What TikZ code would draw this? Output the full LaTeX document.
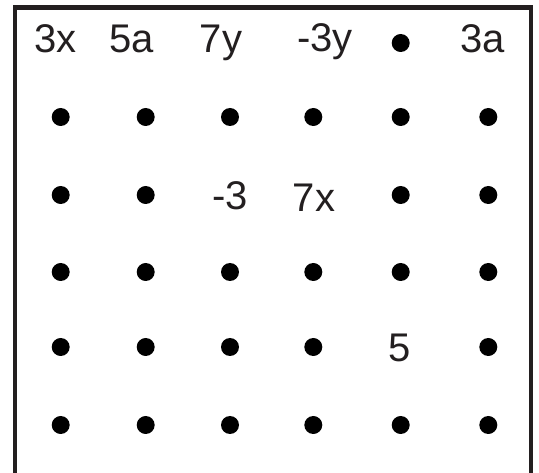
\documentclass[tikz,border=0pt]{standalone}
\usepackage{fontspec}
\setmainfont{Liberation Sans}
\definecolor{inkgray}{HTML}{231F20}

\begin{document}
\begin{tikzpicture}[x=1pt, y=-1pt, font=\fontsize{40}{44}\selectfont,
	dot/.style={circle, fill=black, inner sep=0pt, minimum size=18pt},
	lbl/.style={text=inkgray, inner sep=0pt, anchor=base}]
	\useasboundingbox (0,0) rectangle (539,473);
	\draw[line width=4.7pt, inkgray] (15,490) -- (15,7.5) -- (531,7.5) -- (531,490);
	% full rows of dots
	\foreach \y/\r in {117/2, 272/4, 425/6}
		\foreach \x/\c in {60.7/1, 145.7/2, 230/3, 313.3/4, 400.7/5, 488.3/6}
			\node[dot] (d\r\c) at (\x,\y) {};
	% dots between the labels
	\node[dot] (d15) at (400.7,43) {};
	\foreach \x/\c in {60.7/1, 145.7/2, 400.7/5, 488.3/6}
		\node[dot] (d3\c) at (\x,195) {};
	\foreach \x/\c in {60.7/1, 145.7/2, 230/3, 313.3/4, 488.3/6}
		\node[dot] (d5\c) at (\x,347) {};
	% labels
	\node[lbl] (l11) at (55.8,52.7) {3x};
	\node[lbl] (l12) at (132,52.7) {5a};
	\node[lbl] (l13) at (221,52.7) {7y};
	\node[lbl] (l14) at (325,51.5) {-3y};
	\node[lbl] (l16) at (483,52.7) {3a};
	\node[lbl] (l33) at (230,210) {-3};
	\node[lbl] (l34) at (314,211.7) {7x};
	\node[lbl] (l55) at (400,361.3) {5};
\end{tikzpicture}
\end{document}
